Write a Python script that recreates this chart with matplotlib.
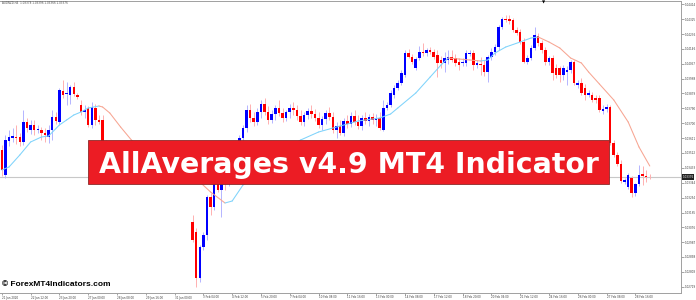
import numpy as np
import matplotlib.pyplot as plt
from matplotlib.patches import Rectangle

# AUDNZD H4 - candele (prezzi open / high / low / close per barra)
open_ = [
    1.03540, 1.03390, 1.03594, 1.03612, 1.03618, 1.03618, 1.03588, 1.03708, 1.03660, 1.03690,
    1.03660, 1.03660, 1.03642, 1.03618, 1.03660, 1.03738, 1.03708, 1.03894, 1.03876, 1.03870,
    1.03918, 1.03870, 1.03810, 1.03768, 1.03792, 1.03690, 1.03792, 1.03720, 1.03720, 1.03570,
    1.03510, 1.03540, 1.03480, 1.03510, 1.03528, 1.03468, 1.03492, 1.03528, 1.03540, 1.03498,
    1.03456, 1.03480, 1.03504, 1.03480, 1.03420, 1.03450, 1.03480, 1.03444, 1.03408, 1.03432,
    1.03450, 1.03402, 1.03384, 1.03108, 1.03048, 1.02772, 1.02958, 1.03030, 1.03258, 1.03198,
    1.03342, 1.03300, 1.03372, 1.03348, 1.03384, 1.03468, 1.03540, 1.03612, 1.03672, 1.03780,
    1.03732, 1.03708, 1.03768, 1.03816, 1.03768, 1.03720, 1.03756, 1.03792, 1.03762, 1.03732,
    1.03768, 1.03792, 1.03780, 1.03744, 1.03708, 1.03750, 1.03774, 1.03756, 1.03732, 1.03690,
    1.03726, 1.03762, 1.03738, 1.03660, 1.03684, 1.03642, 1.03714, 1.03696, 1.03744, 1.03708,
    1.03684, 1.03732, 1.03714, 1.03738, 1.03720, 1.03732, 1.03660, 1.03792, 1.03810, 1.03870,
    1.03912, 1.03942, 1.03990, 1.04122, 1.04098, 1.04032, 1.04092, 1.04128, 1.04122, 1.04140,
    1.04128, 1.04110, 1.04080, 1.04062, 1.04080, 1.04098, 1.04092, 1.04068, 1.04062, 1.04062,
    1.04116, 1.04122, 1.04050, 1.04056, 1.04050, 1.04008, 1.04098, 1.04128, 1.04158, 1.04278,
    1.04326, 1.04326, 1.04320, 1.04260, 1.04248, 1.04188, 1.04068, 1.04092, 1.04152, 1.04224,
    1.04182, 1.04140, 1.04068, 1.04092, 1.04032, 1.04032, 1.03990, 1.04008, 1.04020, 1.04068,
    1.03930, 1.03942, 1.03912, 1.03870, 1.03870, 1.03852, 1.03852, 1.03774, 1.03786, 1.03798,
    1.03582, 1.03510, 1.03456, 1.03348, 1.03318, 1.03372, 1.03282, 1.03336, 1.03396, 1.03384, 1.03378,
]
high = [
    1.03570, 1.03630, 1.03660, 1.03672, 1.03690, 1.03642, 1.03780, 1.03732, 1.03720, 1.03720,
    1.03690, 1.03678, 1.03672, 1.03690, 1.03780, 1.03768, 1.03912, 1.03960, 1.03948, 1.03930,
    1.03948, 1.03882, 1.03840, 1.03810, 1.03804, 1.03828, 1.03816, 1.03750, 1.03750, 1.03600,
    1.03552, 1.03564, 1.03528, 1.03540, 1.03552, 1.03510, 1.03540, 1.03558, 1.03570, 1.03528,
    1.03492, 1.03516, 1.03540, 1.03510, 1.03468, 1.03492, 1.03510, 1.03480, 1.03450, 1.03462,
    1.03480, 1.03432, 1.03420, 1.03150, 1.03072, 1.02970, 1.03048, 1.03270, 1.03282, 1.03342,
    1.03372, 1.03390, 1.03420, 1.03408, 1.03480, 1.03552, 1.03630, 1.03690, 1.03810, 1.03816,
    1.03768, 1.03792, 1.03840, 1.03852, 1.03804, 1.03780, 1.03810, 1.03840, 1.03792, 1.03780,
    1.03816, 1.03828, 1.03810, 1.03780, 1.03768, 1.03792, 1.03810, 1.03786, 1.03768, 1.03744,
    1.03780, 1.03798, 1.03768, 1.03708, 1.03720, 1.03732, 1.03750, 1.03768, 1.03780, 1.03750,
    1.03750, 1.03768, 1.03756, 1.03762, 1.03756, 1.03768, 1.03840, 1.03828, 1.03900, 1.03930,
    1.03960, 1.04020, 1.04140, 1.04146, 1.04116, 1.04098, 1.04164, 1.04182, 1.04152, 1.04158,
    1.04146, 1.04140, 1.04104, 1.04128, 1.04140, 1.04140, 1.04116, 1.04092, 1.04092, 1.04140,
    1.04140, 1.04140, 1.04080, 1.04098, 1.04080, 1.04110, 1.04152, 1.04176, 1.04290, 1.04338,
    1.04350, 1.04350, 1.04332, 1.04278, 1.04266, 1.04212, 1.04110, 1.04170, 1.04278, 1.04242,
    1.04200, 1.04158, 1.04104, 1.04110, 1.04056, 1.04044, 1.04050, 1.04044, 1.04080, 1.04080,
    1.03960, 1.03972, 1.03936, 1.03900, 1.03888, 1.03870, 1.03870, 1.03810, 1.03816, 1.03810,
    1.03600, 1.03528, 1.03480, 1.03372, 1.03402, 1.03384, 1.03342, 1.03450, 1.03444, 1.03420, 1.03396,
]
low = [
    1.03384, 1.03372, 1.03564, 1.03588, 1.03576, 1.03564, 1.03570, 1.03648, 1.03636, 1.03630,
    1.03642, 1.03600, 1.03588, 1.03582, 1.03600, 1.03696, 1.03696, 1.03852, 1.03810, 1.03816,
    1.03864, 1.03846, 1.03750, 1.03732, 1.03678, 1.03672, 1.03690, 1.03696, 1.03540, 1.03492,
    1.03480, 1.03468, 1.03432, 1.03480, 1.03450, 1.03420, 1.03468, 1.03492, 1.03480, 1.03444,
    1.03420, 1.03450, 1.03468, 1.03408, 1.03390, 1.03432, 1.03432, 1.03396, 1.03384, 1.03408,
    1.03390, 1.03360, 1.03348, 1.02988, 1.02718, 1.02748, 1.02940, 1.03000, 1.03150, 1.03180,
    1.03288, 1.03138, 1.03300, 1.03324, 1.03360, 1.03444, 1.03510, 1.03588, 1.03648, 1.03708,
    1.03684, 1.03690, 1.03732, 1.03750, 1.03696, 1.03702, 1.03720, 1.03744, 1.03708, 1.03714,
    1.03732, 1.03750, 1.03720, 1.03690, 1.03684, 1.03726, 1.03732, 1.03714, 1.03672, 1.03660,
    1.03696, 1.03720, 1.03642, 1.03612, 1.03630, 1.03624, 1.03672, 1.03678, 1.03690, 1.03666,
    1.03660, 1.03696, 1.03684, 1.03696, 1.03684, 1.03660, 1.03654, 1.03780, 1.03798, 1.03852,
    1.03900, 1.03930, 1.03978, 1.04092, 1.04056, 1.04020, 1.04080, 1.04104, 1.04104, 1.04116,
    1.04086, 1.03978, 1.04032, 1.04008, 1.04056, 1.04068, 1.04044, 1.04020, 1.04044, 1.04044,
    1.04104, 1.04020, 1.04032, 1.03990, 1.03984, 1.03948, 1.04080, 1.04110, 1.04140, 1.04266,
    1.04308, 1.04296, 1.04248, 1.04230, 1.04176, 1.04062, 1.04056, 1.04080, 1.04140, 1.04164,
    1.04122, 1.04050, 1.04050, 1.03960, 1.03972, 1.03948, 1.03960, 1.03930, 1.04002, 1.03930,
    1.03912, 1.03870, 1.03840, 1.03858, 1.03828, 1.03822, 1.03768, 1.03756, 1.03768, 1.03570,
    1.03498, 1.03444, 1.03342, 1.03336, 1.03306, 1.03258, 1.03264, 1.03324, 1.03330, 1.03348, 1.03366,
]
close = [
    1.03420, 1.03600, 1.03618, 1.03624, 1.03612, 1.03588, 1.03708, 1.03672, 1.03690, 1.03660,
    1.03666, 1.03642, 1.03630, 1.03660, 1.03738, 1.03714, 1.03900, 1.03870, 1.03882, 1.03918,
    1.03876, 1.03858, 1.03768, 1.03780, 1.03690, 1.03798, 1.03720, 1.03708, 1.03570, 1.03510,
    1.03540, 1.03480, 1.03510, 1.03528, 1.03468, 1.03492, 1.03528, 1.03540, 1.03498, 1.03456,
    1.03480, 1.03504, 1.03480, 1.03420, 1.03450, 1.03480, 1.03444, 1.03408, 1.03432, 1.03450,
    1.03402, 1.03384, 1.03372, 1.03000, 1.02772, 1.02958, 1.03030, 1.03258, 1.03198, 1.03342,
    1.03300, 1.03372, 1.03360, 1.03384, 1.03468, 1.03540, 1.03612, 1.03672, 1.03780, 1.03732,
    1.03708, 1.03768, 1.03816, 1.03768, 1.03720, 1.03756, 1.03792, 1.03762, 1.03732, 1.03768,
    1.03792, 1.03780, 1.03744, 1.03708, 1.03750, 1.03774, 1.03756, 1.03732, 1.03690, 1.03726,
    1.03762, 1.03738, 1.03660, 1.03684, 1.03642, 1.03714, 1.03696, 1.03744, 1.03708, 1.03684,
    1.03732, 1.03714, 1.03738, 1.03720, 1.03732, 1.03672, 1.03792, 1.03810, 1.03882, 1.03912,
    1.03942, 1.04002, 1.04122, 1.04098, 1.04068, 1.04086, 1.04128, 1.04122, 1.04140, 1.04128,
    1.04098, 1.04062, 1.04062, 1.04092, 1.04098, 1.04080, 1.04062, 1.04050, 1.04068, 1.04122,
    1.04122, 1.04050, 1.04062, 1.04050, 1.04008, 1.04098, 1.04128, 1.04158, 1.04278, 1.04326,
    1.04320, 1.04314, 1.04260, 1.04242, 1.04188, 1.04068, 1.04092, 1.04152, 1.04230, 1.04182,
    1.04140, 1.04068, 1.04092, 1.04002, 1.03990, 1.03990, 1.04032, 1.04020, 1.04068, 1.03942,
    1.03942, 1.03882, 1.03870, 1.03882, 1.03840, 1.03840, 1.03780, 1.03786, 1.03798, 1.03582,
    1.03510, 1.03456, 1.03354, 1.03360, 1.03390, 1.03282, 1.03336, 1.03390, 1.03384, 1.03378, 1.03376,
]

# linea AllAverages (barra, valore)
ma_bar = [0, 2, 5, 8, 11, 13, 16, 18, 20, 22, 24, 27, 28, 30, 33, 36, 41, 47, 52, 55,
          58, 62, 64, 67, 72, 77, 83, 88, 94, 99, 105, 108, 110, 115, 119, 122, 124, 127, 130, 133,
          135, 137, 140, 144, 147, 149, 152, 155, 158, 161, 163, 166, 170, 174, 177, 180]
ma_val = [1.03420, 1.03438, 1.03510, 1.03588, 1.03618, 1.03624, 1.03690, 1.03720, 1.03750, 1.03768,
          1.03792, 1.03804, 1.03798, 1.03762, 1.03678, 1.03600, 1.03510, 1.03432, 1.03372, 1.03348,
          1.03288, 1.03222, 1.03234, 1.03330, 1.03420, 1.03528, 1.03600, 1.03648, 1.03684, 1.03714,
          1.03732, 1.03756, 1.03792, 1.03882, 1.03978, 1.04050, 1.04092, 1.04086, 1.04080, 1.04074,
          1.04080, 1.04122, 1.04158, 1.04188, 1.04212, 1.04218, 1.04188, 1.04152, 1.04092, 1.04062,
          1.04008, 1.03936, 1.03840, 1.03708, 1.03558, 1.03444]

# etichette asse tempo (una ogni 8 barre) e asse prezzi
time_labels = ["21 Jan 2020", "22 Jan 12:00", "23 Jan 20:00", "27 Jan 00:00", "28 Jan 08:00",
               "29 Jan 16:00", "31 Jan 00:00", "3 Feb 04:00", "4 Feb 12:00", "5 Feb 20:00",
               "7 Feb 04:00", "10 Feb 08:00", "11 Feb 16:00", "13 Feb 00:00", "14 Feb 08:00",
               "17 Feb 12:00", "18 Feb 20:00", "20 Feb 04:00", "21 Feb 12:00", "24 Feb 16:00",
               "26 Feb 00:00", "27 Feb 08:00", "28 Feb 16:00"]
price_labels = ["1.04414", "1.04325", "1.04236", "1.04146", "1.04057", "1.03968", "1.03879",
                "1.03790", "1.03700", "1.03611", "1.03522", "1.03433", "1.03344", "1.03254",
                "1.03165", "1.03076", "1.02987", "1.02898", "1.02808", "1.02719"]


def generate_chart(output_file):
    fig = plt.figure(figsize=(6.96, 3.0), dpi=100)
    ax = fig.add_axes([0, 7 / 300, 681 / 696, 292 / 300])

    o = np.array(open_)
    h = np.array(high)
    l = np.array(low)
    c = np.array(close)
    x = np.arange(len(c))
    up = c >= o

    # ombre (stoppini) piu' chiare
    ax.vlines(x[up], l[up], h[up], color='#b4b4ff', lw=0.7, zorder=2)
    ax.vlines(x[~up], l[~up], h[~up], color='#ffb0b0', lw=0.7, zorder=2)

    # corpi delle candele
    body = np.where(np.abs(c - o) < 1e-5, 1.5e-5, c - o)
    ax.bar(x[up], body[up], bottom=o[up], width=0.72, color='#0000ff', lw=0, zorder=3)
    ax.bar(x[~up], body[~up], bottom=o[~up], width=0.72, color='#ff0000', lw=0, zorder=3)

    # media mobile colorata per pendenza
    for k in range(len(ma_bar) - 1):
        col = '#7fd3fb' if ma_val[k + 1] > ma_val[k] else '#f7a592'
        ax.plot(ma_bar[k:k + 2], ma_val[k:k + 2], color=col, lw=0.75, zorder=4,
                solid_capstyle='round')

    # linea del prezzo corrente
    ax.axhline(c[-1], color='#c8c8c8', lw=0.8, zorder=1)
    ax.text(1.002, c[-1], f"{c[-1]:.5f}", transform=ax.get_yaxis_transform(),
            fontsize=2, color='white', va='center', ha='left', clip_on=False,
            bbox=dict(facecolor='#202020', edgecolor='none', pad=0.6))

    ax.set_xlim(-0.5, 188.67)
    ax.set_ylim(1.02682, 1.04434)

    ax.spines['left'].set_visible(False)
    for side in ['top', 'right', 'bottom']:
        ax.spines[side].set_color('#a0a0a0')
        ax.spines[side].set_linewidth(0.7)

    ax.yaxis.tick_right()
    ax.set_yticks([float(s) for s in price_labels])
    ax.set_yticklabels(price_labels)
    ax.tick_params(axis='y', length=2, width=0.5, color='#808080', labelsize=2,
                   labelcolor='#404040', pad=1)

    ax.set_xticks(np.arange(len(time_labels)) * 8)
    ax.set_xticklabels(time_labels, ha='left')
    ax.tick_params(axis='x', length=1.5, width=0.5, color='#808080', labelsize=2,
                   labelcolor='#404040', pad=0.3)

    # testo in alto a sinistra
    fig.text(2 / 696, 1 - 3 / 300, "AUDNZD,H4  1.03378 1.03396 1.03366 1.03376",
             fontsize=2, color='#505050', va='center', ha='left')
    fig.text(544 / 696, 1 - 2 / 300, "\u25bc", fontsize=3, color='black', ha='center', va='center')

    # banner rosso con titolo
    fig.patches.append(Rectangle((88 / 696, 116 / 300), 521 / 696, 44 / 300,
                                 transform=fig.transFigure, facecolor='#ec1c24',
                                 edgecolor='#8c2a2a', lw=0.6, zorder=10))
    fig.text(349 / 696, 1 - 173 / 300, "AllAverages v4.9 MT4 Indicator", fontsize=20.4,
             family='DejaVu Sans', weight='bold', color='white', ha='center',
             va='baseline', zorder=11)

    # watermark
    fig.text(2 / 696, 1 - 285 / 300, "\u00a9 ForexMT4Indicators.com", fontsize=6,
             family='Liberation Sans', weight='bold', color='black', ha='left', va='center')

    plt.savefig(output_file, dpi=100)


if __name__ == "__main__":
    generate_chart("out.png")
